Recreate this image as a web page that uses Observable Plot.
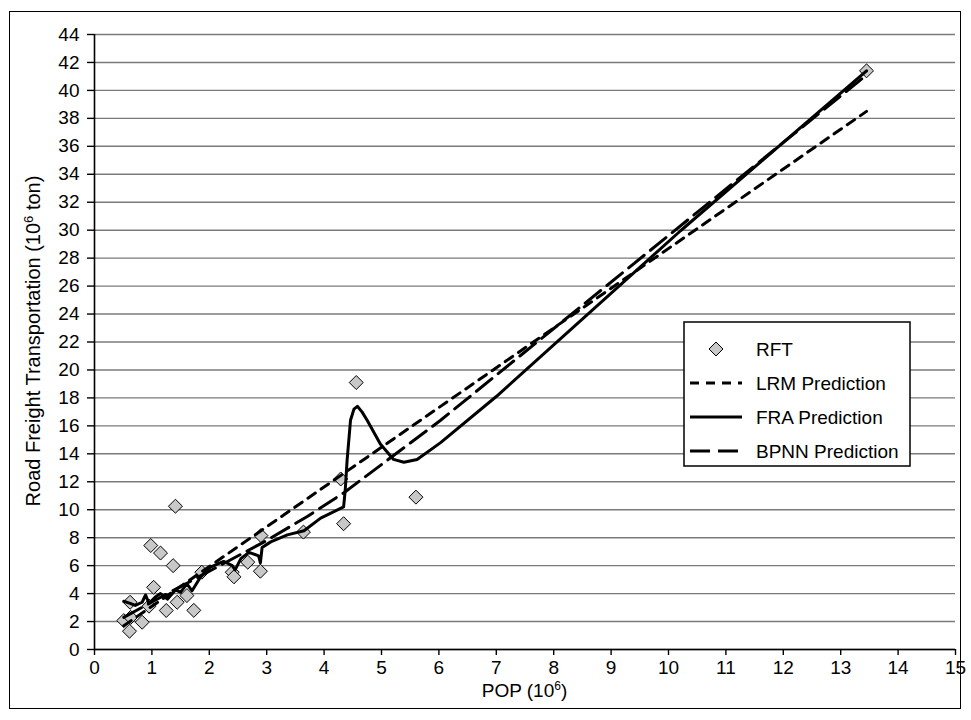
<!DOCTYPE html>
<html>
<head>
<meta charset="utf-8">
<script src="https://cdn.jsdelivr.net/npm/d3@7"></script>
<script src="https://cdn.jsdelivr.net/npm/@observablehq/plot@0.6"></script>
<style>
  html, body { margin: 0; padding: 0; background: #fff; }
  #wrap { position: relative; width: 971px; height: 720px; }
  #frame { position: absolute; left: 9px; top: 11px; width: 952px; height: 698px; border: 1.5px solid #000; box-sizing: border-box; pointer-events: none; }
</style>
</head>
<body>
<div id="wrap"><div id="frame"></div></div>
<script>
// ---- Data ----
const rftX = [0.51, 0.61, 0.62, 0.63, 0.83, 0.95, 0.98, 1.03, 1.15, 1.25, 1.37, 1.41, 1.44, 1.61, 1.73, 1.87, 2.40, 2.43, 2.67, 2.89, 2.90, 3.64, 4.29, 4.34, 4.56, 5.60, 13.45];
const rftY = [2.07, 1.31, 3.38, 2.30, 1.95, 3.10, 7.44, 4.45, 6.90, 2.79, 6.00, 10.25, 3.38, 3.86, 2.80, 5.53, 5.53, 5.20, 6.25, 5.60, 8.15, 8.40, 12.20, 9.00, 19.10, 10.90, 41.40];

const lrmX = [0.51, 13.45];
const lrmY = [1.70, 38.50];

const fraX = [0.51, 0.62, 0.71, 0.83, 0.89, 0.95, 1.06, 1.15, 1.27, 1.41, 1.50, 1.61, 1.70, 1.85, 2.02, 2.25, 2.40, 2.45, 2.55, 2.69, 2.86, 2.89, 2.92, 3.07, 3.36, 3.65, 3.94, 4.34, 4.37, 4.40, 4.46, 4.52, 4.58, 4.66, 4.75, 4.98, 5.21, 5.39, 5.62, 6.03, 7.00, 10.21, 13.45];
const fraY = [3.45, 3.30, 3.15, 3.38, 3.90, 3.30, 3.75, 4.00, 3.60, 4.25, 4.10, 4.70, 4.20, 5.20, 5.90, 6.30, 6.00, 5.70, 6.50, 6.95, 6.70, 6.20, 7.30, 7.70, 8.20, 8.50, 9.40, 10.20, 11.50, 13.50, 16.40, 17.20, 17.40, 17.00, 16.40, 14.70, 13.60, 13.40, 13.60, 14.80, 18.10, 29.96, 41.40];

const bpnnX = [0.51, 1.00, 2.00, 3.00, 3.70, 4.34, 6.03, 13.45];
const bpnnY = [2.30, 3.40, 5.60, 7.80, 9.50, 11.20, 16.40, 41.10];

const xTicks = [0,1,2,3,4,5,6,7,8,9,10,11,12,13,14,15];
const yTicks = [0,2,4,6,8,10,12,14,16,18,20,22,24,26,28,30,32,34,36,38,40,42,44];
const legendLabels = ["RFT", "LRM Prediction", "FRA Prediction", "BPNN Prediction"];

const rft = rftX.map((x, i) => ({x, y: rftY[i]}));
const lrm = lrmX.map((x, i) => ({x, y: lrmY[i]}));
const fra = fraX.map((x, i) => ({x, y: fraY[i]}));
const bpnn = bpnnX.map((x, i) => ({x, y: bpnnY[i]}));

const FONT = "'Liberation Sans', Arial, sans-serif";
const lrmDash = "9,7";
const bpnnDash = "20,8";
const dotR = 6.3;

const svg = Plot.plot({
  width: 971,
  height: 720,
  marginLeft: 94,
  marginRight: 16,
  marginTop: 34,
  marginBottom: 71,
  style: { fontFamily: FONT, fontSize: "19px", color: "#000", background: "transparent" },
  x: { domain: [0, 15] },
  y: { domain: [0, 44] },
  marks: [
    Plot.ruleY(yTicks, { stroke: "#7a7a7a", strokeWidth: 1.4 }),
    Plot.axisY({ ticks: yTicks, tickSize: 7, tickPadding: 8, label: null, strokeWidth: 1.4, fontSize: 19 }),
    Plot.axisX({ ticks: xTicks, tickSize: 6, tickPadding: 5, label: null, strokeWidth: 1.4, fontSize: 19 }),
    Plot.ruleX([0], { stroke: "#000", strokeWidth: 1.6 }),
    Plot.ruleY([0], { stroke: "#000", strokeWidth: 1.6 }),
    Plot.dot(rft, { x: "x", y: "y", symbol: "diamond2", r: dotR, fill: "#c8c8c8", stroke: "#000", strokeWidth: 1 }),
    Plot.line(lrm, { x: "x", y: "y", stroke: "#000", strokeWidth: 3, strokeDasharray: lrmDash }),
    Plot.line(fra, { x: "x", y: "y", stroke: "#000", strokeWidth: 3, strokeLinejoin: "round" }),
    Plot.line(bpnn, { x: "x", y: "y", stroke: "#000", strokeWidth: 3, strokeDasharray: bpnnDash })
  ]
});
document.getElementById("wrap").prepend(svg);

const s = d3.select(svg);

// Axis titles with superscripts
const xl = s.append("text").attr("x", 524.5).attr("y", 697)
  .attr("text-anchor", "middle").attr("font-family", FONT).attr("font-size", 19).attr("fill", "#000");
xl.append("tspan").text("POP (10");
xl.append("tspan").attr("baseline-shift", "super").attr("font-size", 12).text("6");
xl.append("tspan").text(")");

const yl = s.append("text").attr("transform", "translate(40,341) rotate(-90)")
  .attr("text-anchor", "middle").attr("font-family", FONT).attr("font-size", 20).attr("fill", "#000");
yl.append("tspan").text("Road Freight Transportation (10");
yl.append("tspan").attr("baseline-shift", "super").attr("font-size", 13).text("6");
yl.append("tspan").text(" ton)");

// Legend
const lg = s.append("g").attr("text-anchor", "start");
lg.append("rect").attr("x", 684).attr("y", 322).attr("width", 226).attr("height", 144)
  .attr("fill", "#fff").attr("stroke", "#000").attr("stroke-width", 1.5);
const rowY = [349, 383, 417, 451];
const dashes = [null, lrmDash, null, bpnnDash];
legendLabels.forEach((lab, i) => {
  const y = rowY[i];
  if (i === 0) {
    const size = Math.PI * dotR * dotR;
    lg.append("path").attr("d", d3.symbol(d3.symbolDiamond2, size)())
      .attr("transform", `translate(716,${y})`).attr("fill", "#c8c8c8").attr("stroke", "#000").attr("stroke-width", 1);
  } else {
    const ln = lg.append("line").attr("x1", 690).attr("x2", 742).attr("y1", y).attr("y2", y)
      .attr("stroke", "#000").attr("stroke-width", 3);
    if (dashes[i]) ln.attr("stroke-dasharray", dashes[i]);
  }
  lg.append("text").attr("x", 756).attr("y", y).attr("dy", "0.35em").attr("text-anchor", "start")
    .attr("font-family", FONT).attr("font-size", 19).attr("fill", "#000").text(lab);
});
</script>
</body>
</html>
